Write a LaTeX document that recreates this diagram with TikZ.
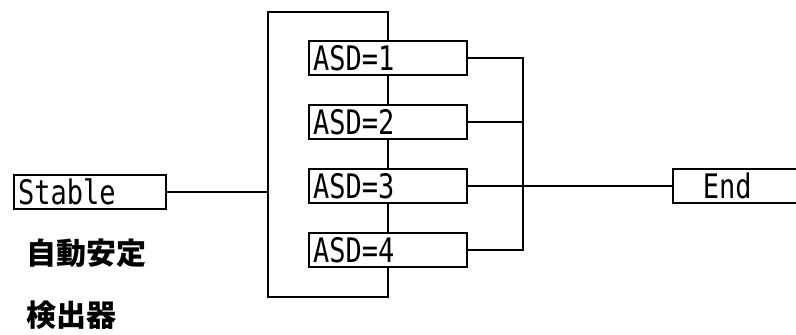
\documentclass[tikz,border=0pt]{standalone}
\usepackage{fontspec}
\setmonofont{DejaVu Sans Mono}
\newfontfamily\cjkfont{Noto Sans CJK JP}
\usetikzlibrary{positioning}

\newcommand{\talltext}[1]{\scalebox{1}[1.25]{#1}}

\begin{document}
\begin{tikzpicture}[x=1pt,y=-1pt,line width=1.6pt,
	box node/.style={draw,rectangle,minimum height=33pt,text width=150pt,inner sep=4pt,
		font=\ttfamily\fontsize{27}{27}\selectfont},
	label node/.style={anchor=west,inner sep=0pt,font=\cjkfont\bfseries\fontsize{30}{30}\selectfont}
]
	\useasboundingbox (0,0) rectangle (796,335);

	\def \bx {388};
	\def \bus {523};
	\def \lft {268};

	% input and output
	\node[box node,text width=144pt] (stable) at (90,192) {\talltext{Stable}};
	\node[box node,anchor=west] (end) at (672,186) {\hspace{26pt}\talltext{End}};

	% the four ASD boxes
	\foreach \s in {1,...,4} {
		\node[box node] (asd\s) at (\bx,{58+64*(\s-1)}) {\talltext{ASD=\s}};
	}

	\node[label node] (auto) at (26,253) {自動安定};
	\node[label node] (detector) at (26,315) {検出器};

	\coordinate (bt) at (\lft,12);
	\coordinate (bb) at (\lft,297);
	\coordinate (bus) at (\bus,0);

	% left bracket
	\draw (stable.east) -- (stable.east -| bt);
	\draw (asd1.north) |- (bt) -- (bb) -| (asd4.south);
	\foreach \s/\t in {1/2,2/3,3/4} {
		\draw (asd\s.south) -- (asd\t.north);
	}

	% right bus
	\draw (asd1.east) -- (asd1.east -| bus) -- (asd4.east -| bus) -- (asd4.east);
	\draw (asd2.east) -- (asd2.east -| bus);
	\draw (asd3.east) -- (end.west);
\end{tikzpicture}
\end{document}
